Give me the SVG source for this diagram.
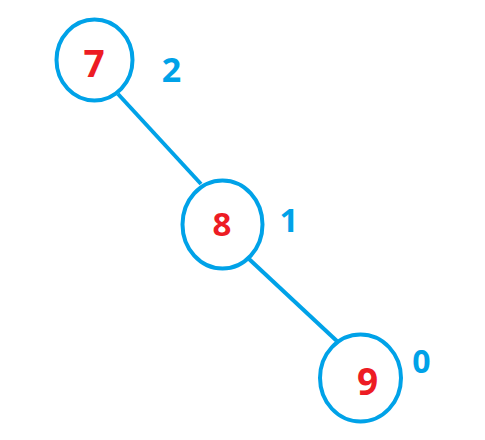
<svg xmlns="http://www.w3.org/2000/svg" width="485" height="440" viewBox="0 0 485 440">
<style>
.n{fill:#fff;stroke:#00a2e8;stroke-width:4}
.v{fill:#ed1c24;font-family:"Open Sans","DejaVu Sans",sans-serif;font-weight:bold;text-anchor:middle}
.h{fill:#00a2e8;font-family:"Open Sans","DejaVu Sans",sans-serif;font-weight:bold;text-anchor:middle}
.e{stroke:#00a2e8;stroke-width:4;fill:none}
</style>
<rect width="485" height="440" fill="#fff"/>
<g id="edges">
<line class="e" x1="118" y1="94" x2="201" y2="184"/>
<line class="e" x1="249" y1="259" x2="339" y2="343"/>
</g>
<g id="n7">
<ellipse class="n" cx="94.5" cy="60" rx="38" ry="40.5"/>
<text class="v" x="94" y="77" font-size="37">7</text>
<text class="h" x="171.5" y="82" font-size="34">2</text>
</g>
<g id="n8">
<ellipse class="n" cx="222.5" cy="224.5" rx="40" ry="44"/>
<text class="v" x="222" y="236" font-size="33">8</text>
<text class="h" x="289" y="232" font-size="33">1</text>
</g>
<g id="n9">
<ellipse class="n" cx="360.5" cy="378" rx="40.5" ry="43.5"/>
<text class="v" x="367.5" y="395" font-size="37">9</text>
<text class="h" x="421.5" y="373" font-size="32">0</text>
</g>
</svg>
